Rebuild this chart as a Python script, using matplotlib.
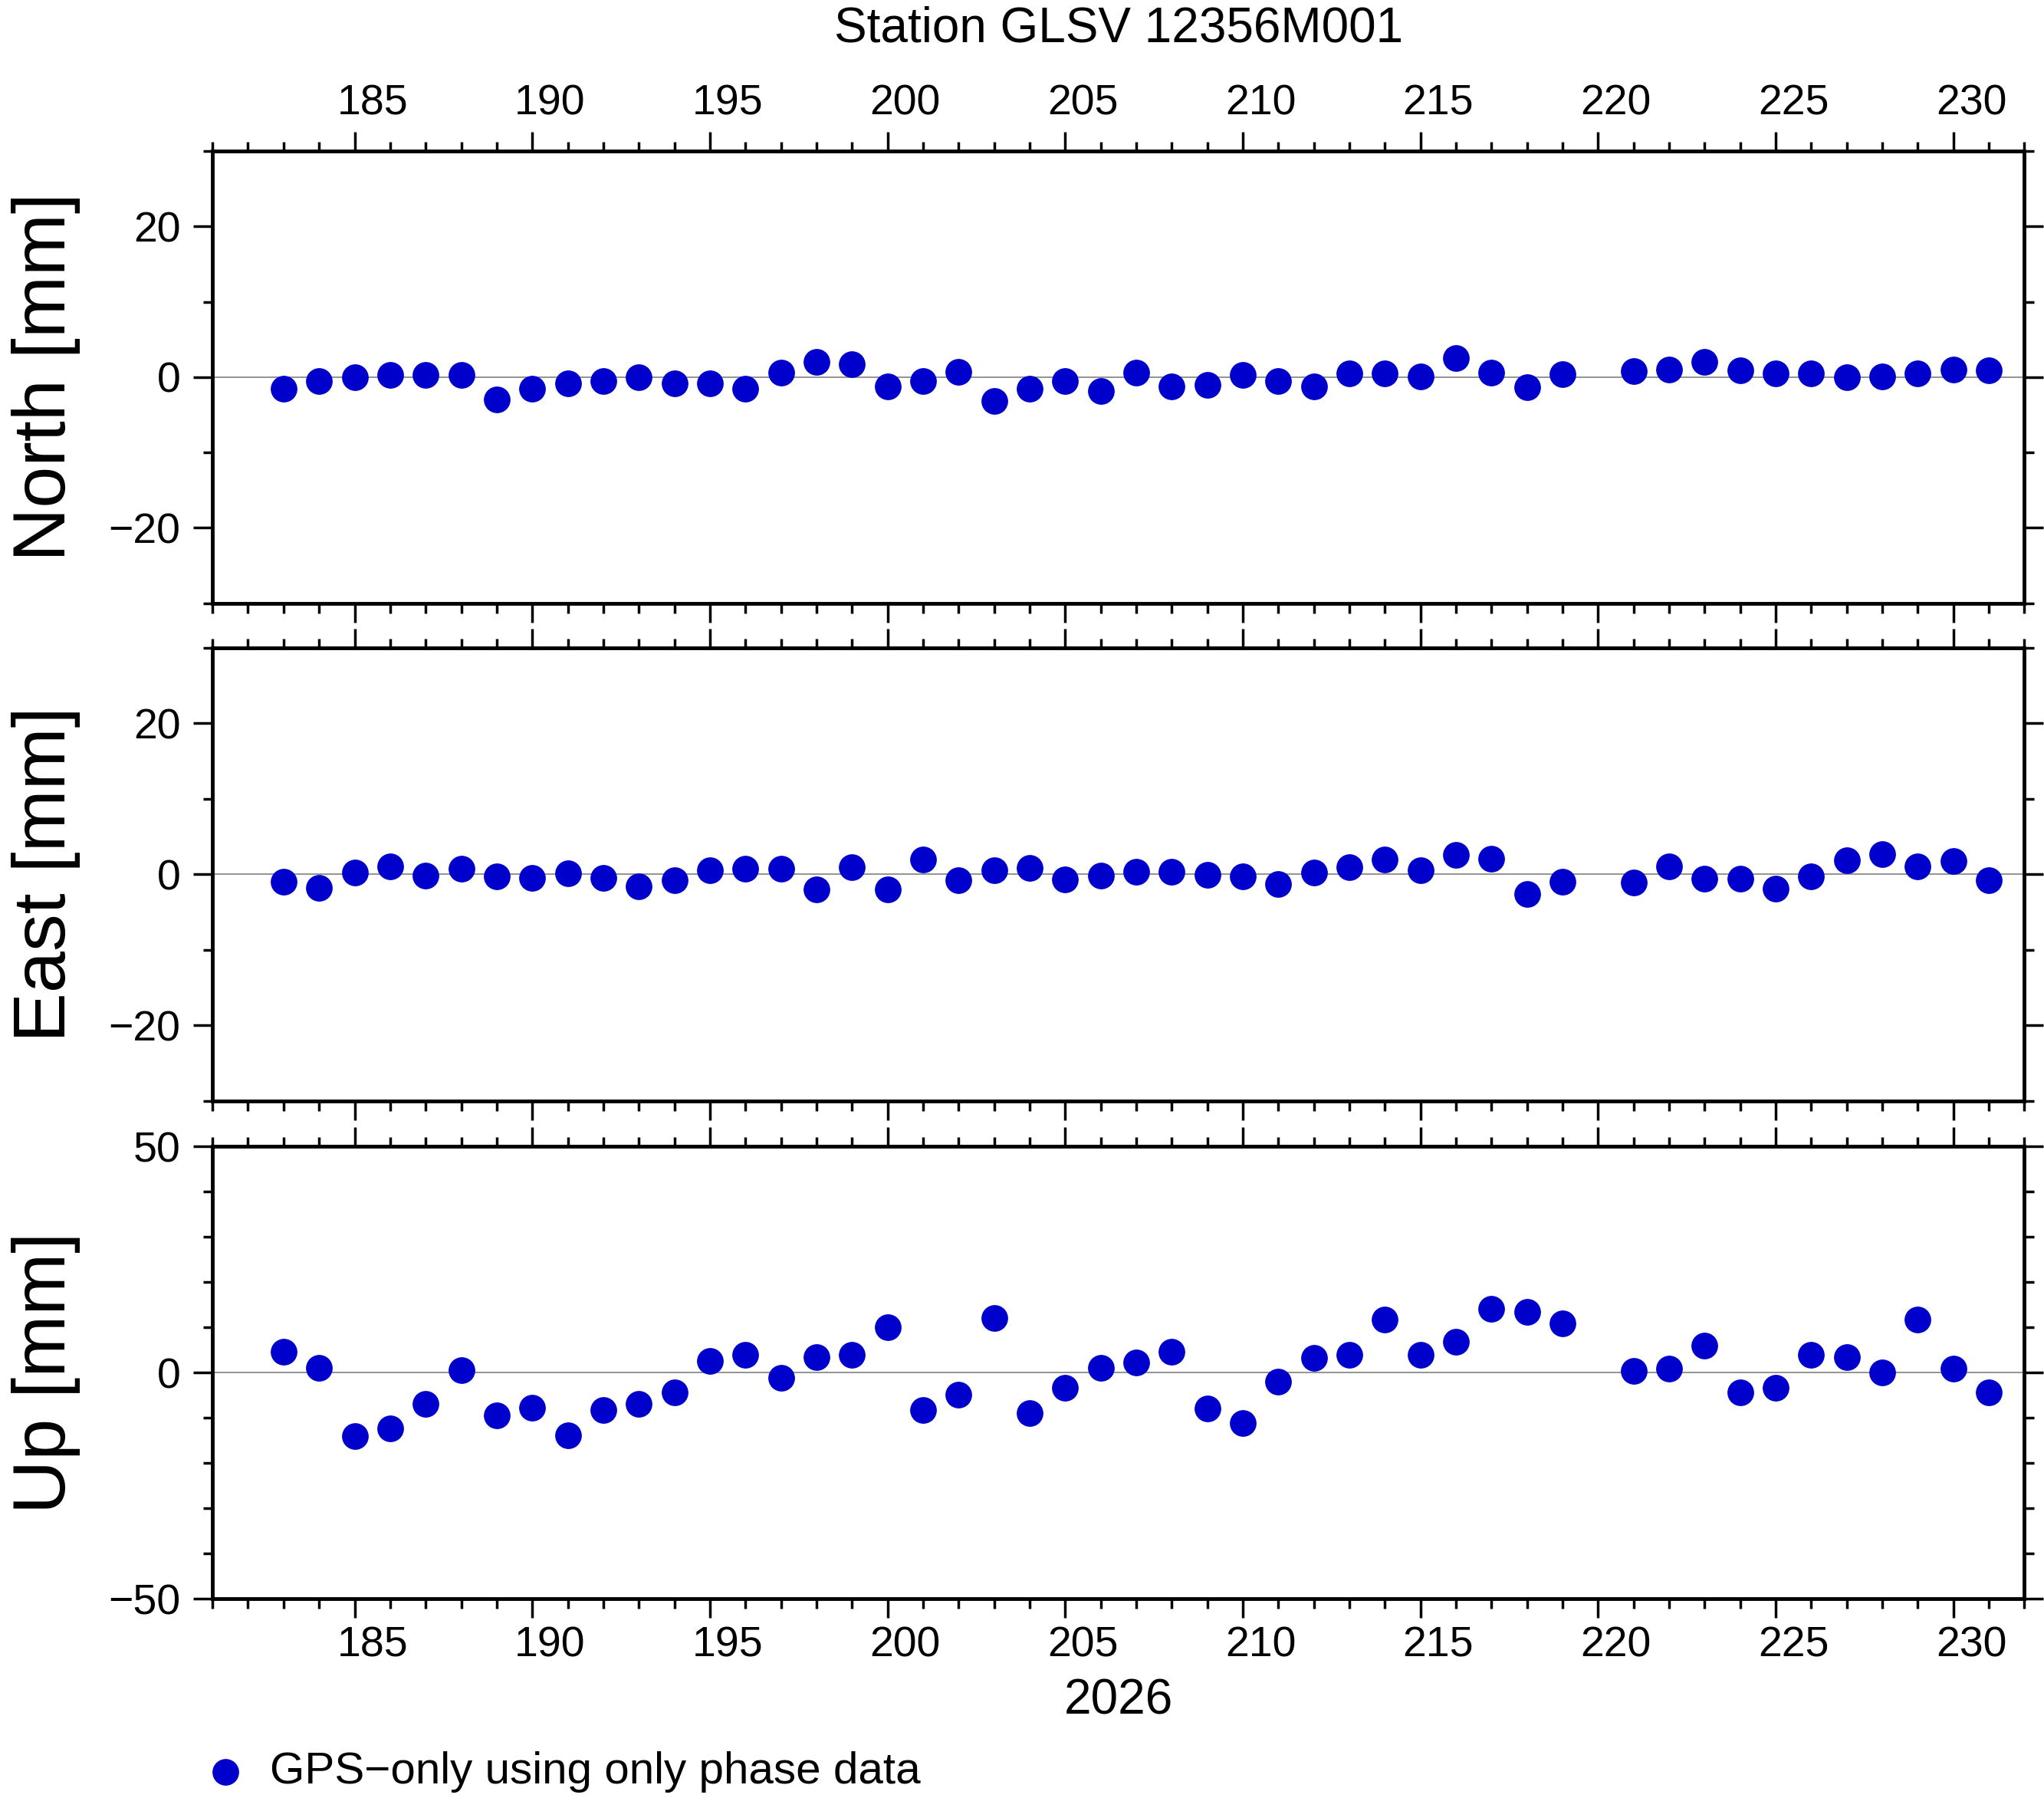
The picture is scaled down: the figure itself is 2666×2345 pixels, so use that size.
import matplotlib
matplotlib.use("Agg")
import matplotlib.pyplot as plt
from matplotlib.ticker import MultipleLocator
import matplotlib.transforms as mtrans

plt.rcParams['font.family'] = ['Liberation Sans', 'DejaVu Sans']

days = [d for d in range(183, 232) if d != 220]
north = [-1.5,-0.5,0,0.3,0.3,0.3,-3,-1.5,-0.8,-0.5,0,-0.8,-0.8,-1.5,0.6,2,1.7,-1.2,-0.5,0.7,-3.2,-1.5,-0.5,-1.8,0.6,-1.2,-1,0.3,-0.5,-1.2,0.5,0.5,0.1,2.5,0.6,-1.3,0.4,
         0.8,1,2,0.9,0.5,0.5,0,0.1,0.5,1,0.9]
east = [-1,-1.8,0.2,1,-0.2,0.7,-0.3,-0.5,0.1,-0.5,-1.6,-0.8,0.5,0.7,0.7,-2,0.9,-2,2,-0.8,0.5,0.8,-0.7,-0.2,0.3,0.3,-0.1,-0.3,-1.3,0.2,0.9,1.9,0.5,2.6,2.1,-2.6,-1,
        -1.1,1,-0.6,-0.6,-1.9,-0.3,1.8,2.7,1,1.7,-0.8]
up = [4.6,1.1,-14.1,-12.4,-6.9,0.6,-9.5,-7.8,-13.8,-8.3,-6.9,-4.3,2.6,4,-1.1,3.4,4,10,-8.3,-4.9,12.1,-8.9,-3.4,1.1,2.3,4.6,-8,-11.2,-2,3.2,4,11.8,4,6.9,14.1,13.5,10.9,
      0.3,0.9,6,-4.3,-3.4,4,3.4,0,11.8,0.9,-4.3]
xlabels = [185,190,195,200,205,210,215,220,225,230]
title = "Station GLSV 12356M001"
year = "2026"
legend_label = "GPS\u2212only using only phase data"

W, H = 1568, 1380
fig = plt.figure(figsize=(26.66, 23.45), dpi=100)
L, R = 163/W, 1553/W
panels = [(116, 463, north, "North [mm]", (-30, 30), 20, 10),
          (497, 845, east, "East [mm]", (-30, 30), 20, 10),
          (880, 1227, up, "Up [mm]", (-50, 50), 50, 10)]
color = '#0000cc'
fs = 40
for i, (t, b, data, lab, ylim, maj, mnr) in enumerate(panels):
    ax = fig.add_axes([L, 1 - b/H, R - L, (b - t)/H])
    ax.axhline(0, color='gray', lw=1.2, zorder=1)
    ax.plot(days, data, 'o', color=color, ms=24, zorder=3, clip_on=False)
    ax.set_xlim(181, 232)
    ax.set_ylim(*ylim)
    ax.xaxis.set_major_locator(MultipleLocator(5))
    ax.xaxis.set_minor_locator(MultipleLocator(1))
    ax.yaxis.set_major_locator(MultipleLocator(maj))
    ax.yaxis.set_minor_locator(MultipleLocator(mnr))
    ax.tick_params(which='both', direction='out', top=True, right=True, width=2.5, labelsize=fs, pad=12)
    ax.tick_params(which='major', length=18)
    ax.tick_params(which='minor', length=9)
    ax.tick_params(axis='x', labelbottom=False, labeltop=False)
    ax.tick_params(axis='y', right=True, labelright=False)
    for s in ax.spines.values():
        s.set_linewidth(3.5)
    ax.set_ylabel(lab, fontsize=70)
    ax.yaxis.set_label_coords(-0.073, 0.5)
    trans = mtrans.blended_transform_factory(ax.transData, ax.transAxes)
    if i == 0:
        for xl in xlabels:
            ax.text(xl + 0.5, 1.06, str(xl), transform=trans, ha='center', va='bottom', fontsize=fs)
        ax.text(0.5, 1.22, title, transform=ax.transAxes, ha='center', va='bottom', fontsize=46)
    if i == 2:
        for xl in xlabels:
            ax.text(xl + 0.5, -0.06, str(xl), transform=trans, ha='center', va='top', fontsize=fs)
        ax.text(0.5, -0.175, year, transform=ax.transAxes, ha='center', va='top', fontsize=46)

fig.lines.append(plt.Line2D([173/W], [1 - 1360/H], marker='o', color=color, ms=24, transform=fig.transFigure))
fig.text(207/W, 1 - 1360/H, legend_label, fontsize=42, va='center', ha='left')
fig.savefig("out.png", dpi=100)
